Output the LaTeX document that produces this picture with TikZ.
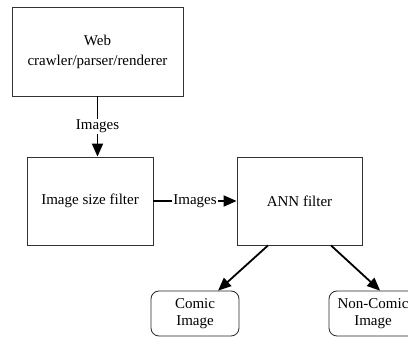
\documentclass[tikz,border=0pt]{standalone}
\usepackage{fontspec}
\setmainfont{Liberation Serif}
\usetikzlibrary{arrows.meta,calc}
\begin{document}
\begin{tikzpicture}[x=1pt,y=-1pt,
  every node/.style={font=\fontsize{15}{17}\selectfont, align=center},
  procbox/.style={draw=black!80, line width=0.8pt, inner sep=0pt},
  outbox/.style={draw=black!85, line width=0.8pt, rounded corners=8pt, inner sep=0pt,
    minimum width=88pt, minimum height=45pt},
  flow/.style={line width=1.8pt, -{Triangle[length=13pt,width=11pt]}},
  flowlabel/.style={fill=white, inner sep=1pt}]
  \useasboundingbox (0,0) rectangle (408,339);
  \clip (0,0) rectangle (408,339);
  \fill[white] (0,0) rectangle (408,339);

  % processing stages
  \node[procbox, minimum width=171pt, minimum height=89pt,
        font=\fontsize{15}{20}\selectfont] (crawler) at (97.5,51.5)
        {Web\\crawler/parser/renderer};
  \node[procbox, minimum width=126pt, minimum height=88pt] (sizefilter) at (90,201)
        {Image size filter};
  \node[procbox, minimum width=125pt, minimum height=88pt] (ann) at (299.5,201)
        {ANN filter};

  % classification results
  \node[outbox] (comic) at (195,313.5) {Comic\\Image};
  \node[outbox] (noncomic) at (373,313.5) {Non-Comic\\Image};

  % connectors
  \draw[flow] (crawler.south) -- (crawler.south |- sizefilter.north)
        node[midway, flowlabel] {Images};
  \draw[flow] (sizefilter.east) -- (ann.west)
        node[midway, flowlabel] {Images};
  \draw[flow] ($(ann.south west)!0.25!(ann.south east)$)
        -- ($(comic.north west)!0.76!(comic.north east)$);
  \draw[flow] ($(ann.south west)!0.75!(ann.south east)$)
        -- ($(noncomic.north west)!0.58!(noncomic.north east)$);
\end{tikzpicture}
\end{document}
